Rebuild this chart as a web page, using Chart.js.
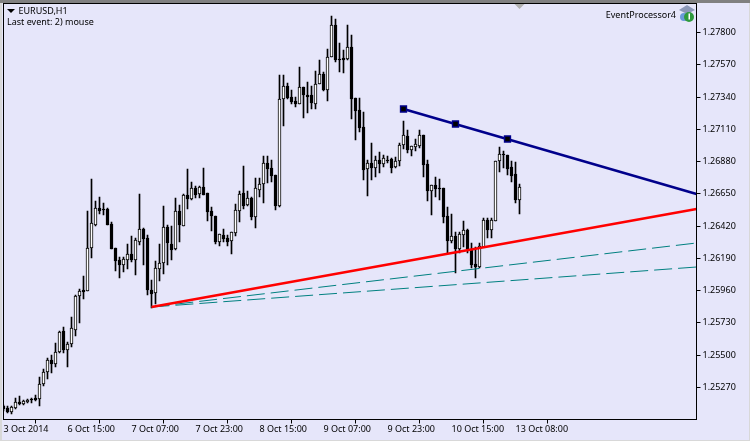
<!DOCTYPE html>
<html>
<head>
<meta charset="utf-8">
<title>EURUSD,H1</title>
<style>
  html, body { margin: 0; padding: 0; background: #e6e6fa; }
  canvas { display: block; }
</style>
<script src="https://cdn.jsdelivr.net/npm/chart.js@4/dist/chart.umd.js"></script>
</head>
<body>
<canvas id="grafico" width="750" height="441"></canvas>
<script>
// Candles, oldest first
const opens = [
  1.25134, 1.25120, 1.25092, 1.25120, 1.25163, 1.25148, 1.25163, 1.25184, 1.25191, 1.25184,
  1.25291, 1.25377, 1.25462, 1.25433, 1.25520, 1.25669, 1.25534, 1.25576, 1.25676, 1.25918,
  1.25961, 1.25954, 1.26261, 1.26424, 1.26546, 1.26539, 1.26539, 1.26431, 1.26261, 1.26175,
  1.26139, 1.26175, 1.26217, 1.26175, 1.26304, 1.26396, 1.26332, 1.25961, 1.25940, 1.26111,
  1.26154, 1.26410, 1.26289, 1.26254, 1.26524, 1.26417, 1.26638, 1.26610, 1.26688, 1.26645,
  1.26695, 1.26653, 1.26524, 1.26488, 1.26304, 1.26353, 1.26332, 1.26311, 1.26368, 1.26524,
  1.26653, 1.26567, 1.26617, 1.26481, 1.26674, 1.26716, 1.26867, 1.26831, 1.26780, 1.26560,
  1.27322, 1.27415, 1.27336, 1.27308, 1.27286, 1.27408, 1.27351, 1.27351, 1.27286, 1.27429,
  1.27500, 1.27387, 1.27622, 1.27849, 1.27607, 1.27615, 1.27607, 1.27693, 1.27329, 1.27244,
  1.27123, 1.26824, 1.26867, 1.26831, 1.26888, 1.26859, 1.26888, 1.26895, 1.26838, 1.26881,
  1.26995, 1.27059, 1.26959, 1.26980, 1.26987, 1.27066, 1.26859, 1.26667, 1.26709, 1.26688,
  1.26688, 1.26488, 1.26311, 1.26346, 1.26254, 1.26353, 1.26389, 1.26254, 1.26146, 1.26125,
  1.26268, 1.26460, 1.26389, 1.26453, 1.26881, 1.26931, 1.26923, 1.26838, 1.26788, 1.26603
];
const closes = [
  1.25113, 1.25092, 1.25127, 1.25163, 1.25148, 1.25170, 1.25177, 1.25177, 1.25177, 1.25291,
  1.25377, 1.25462, 1.25433, 1.25520, 1.25662, 1.25534, 1.25576, 1.25690, 1.25918, 1.25954,
  1.25947, 1.26261, 1.26439, 1.26546, 1.26524, 1.26531, 1.26424, 1.26254, 1.26168, 1.26139,
  1.26182, 1.26217, 1.26175, 1.26318, 1.26396, 1.26325, 1.25961, 1.25932, 1.26118, 1.26154,
  1.26410, 1.26297, 1.26246, 1.26524, 1.26424, 1.26638, 1.26610, 1.26688, 1.26638, 1.26695,
  1.26638, 1.26517, 1.26488, 1.26304, 1.26360, 1.26325, 1.26304, 1.26375, 1.26531, 1.26645,
  1.26560, 1.26617, 1.26481, 1.26688, 1.26716, 1.26867, 1.26824, 1.26773, 1.26560, 1.27322,
  1.27415, 1.27329, 1.27301, 1.27286, 1.27408, 1.27351, 1.27336, 1.27294, 1.27429, 1.27500,
  1.27387, 1.27622, 1.27849, 1.27600, 1.27600, 1.27600, 1.27693, 1.27322, 1.27237, 1.27116,
  1.26816, 1.26867, 1.26831, 1.26888, 1.26859, 1.26902, 1.26881, 1.26831, 1.26881, 1.26995,
  1.27066, 1.26959, 1.26987, 1.27001, 1.27066, 1.26852, 1.26667, 1.26709, 1.26681, 1.26681,
  1.26481, 1.26311, 1.26346, 1.26254, 1.26360, 1.26389, 1.26254, 1.26139, 1.26125, 1.26275,
  1.26460, 1.26389, 1.26460, 1.26881, 1.26931, 1.26923, 1.26824, 1.26773, 1.26603, 1.26695
];
const highs = [
  1.25141, 1.25134, 1.25134, 1.25191, 1.25205, 1.25177, 1.25184, 1.25191, 1.25212, 1.25341,
  1.25398, 1.25477, 1.25498, 1.25584, 1.25669, 1.25697, 1.25591, 1.25769, 1.25925, 1.25968,
  1.26061, 1.26524, 1.26752, 1.26596, 1.26624, 1.26582, 1.26546, 1.26446, 1.26261, 1.26196,
  1.26196, 1.26289, 1.26346, 1.26332, 1.26645, 1.26403, 1.26353, 1.26032, 1.26168, 1.26289,
  1.26560, 1.26424, 1.26417, 1.26617, 1.26567, 1.26645, 1.26824, 1.26731, 1.26702, 1.26702,
  1.26831, 1.26653, 1.26553, 1.26488, 1.26360, 1.26396, 1.26353, 1.26375, 1.26574, 1.26667,
  1.26845, 1.26667, 1.26624, 1.26759, 1.26759, 1.26916, 1.26916, 1.26888, 1.26780, 1.27493,
  1.27493, 1.27437, 1.27387, 1.27336, 1.27550, 1.27408, 1.27444, 1.27415, 1.27522, 1.27600,
  1.27515, 1.27679, 1.27914, 1.27892, 1.27722, 1.27672, 1.27849, 1.27778, 1.27329, 1.27329,
  1.27230, 1.26888, 1.27009, 1.26916, 1.26945, 1.26923, 1.26916, 1.26902, 1.26909, 1.27009,
  1.27166, 1.27101, 1.26987, 1.27037, 1.27101, 1.27066, 1.26888, 1.26709, 1.26766, 1.26752,
  1.26688, 1.26553, 1.26502, 1.26375, 1.26375, 1.26453, 1.26396, 1.26297, 1.26268, 1.26297,
  1.26474, 1.26474, 1.26474, 1.26881, 1.26980, 1.26952, 1.26923, 1.26881, 1.26874, 1.26716
];
const lows = [
  1.25099, 1.25085, 1.25077, 1.25113, 1.25141, 1.25141, 1.25156, 1.25156, 1.25170, 1.25134,
  1.25277, 1.25327, 1.25370, 1.25412, 1.25513, 1.25513, 1.25412, 1.25555, 1.25633, 1.25726,
  1.25897, 1.25954, 1.26189, 1.26417, 1.26502, 1.26495, 1.26424, 1.26254, 1.26097, 1.26047,
  1.26090, 1.26111, 1.26161, 1.26068, 1.26282, 1.26139, 1.25925, 1.25833, 1.25861, 1.26025,
  1.26075, 1.26139, 1.26175, 1.26246, 1.26304, 1.26417, 1.26539, 1.26603, 1.26617, 1.26617,
  1.26638, 1.26453, 1.26382, 1.26289, 1.26275, 1.26304, 1.26275, 1.26217, 1.26346, 1.26446,
  1.26539, 1.26560, 1.26460, 1.26403, 1.26624, 1.26582, 1.26724, 1.26731, 1.26531, 1.26553,
  1.27130, 1.27322, 1.27286, 1.27265, 1.27286, 1.27187, 1.27223, 1.27251, 1.27251, 1.27429,
  1.27380, 1.27308, 1.27622, 1.27586, 1.27515, 1.27508, 1.27600, 1.27180, 1.27030, 1.27087,
  1.26745, 1.26631, 1.26745, 1.26766, 1.26795, 1.26838, 1.26867, 1.26795, 1.26831, 1.26845,
  1.26966, 1.26938, 1.26916, 1.26952, 1.26973, 1.26766, 1.26596, 1.26495, 1.26624, 1.26603,
  1.26439, 1.26225, 1.26297, 1.26083, 1.26225, 1.26268, 1.26225, 1.26118, 1.26047, 1.26118,
  1.26268, 1.26332, 1.26332, 1.26453, 1.26802, 1.26831, 1.26780, 1.26731, 1.26582, 1.26502
];

// Axes
const xTickBars = [0, 16, 32, 48, 64, 80, 96, 112, 128];
const xTickLabels = ['3 Oct 2014', '6 Oct 15:00', '7 Oct 07:00', '7 Oct 23:00', '8 Oct 15:00',
  '9 Oct 07:00', '9 Oct 23:00', '10 Oct 15:00', '13 Oct 08:00'];
const yTicks = [1.278, 1.2757, 1.2734, 1.2711, 1.2688, 1.2665, 1.2642, 1.2619, 1.2596, 1.2573, 1.255, 1.2527];

// Trend lines: [bar, price]
const redLine = [[37, 1.25840], [173.25, 1.26539]];
const blueLine = [[100, 1.27251], [173.25, 1.26645]];
const blueAnchors = [[100, 1.27251], [113, 1.27144], [126, 1.27037]];
const tealUpper = [[37, 1.25840], [173.25, 1.26297]];
const tealLower = [[37, 1.25840], [173.25, 1.26125]];

const BG = '#e6e6fa';
const pontos = arr => arr.map(p => ({ x: p[0], y: p[1] }));

// MT4 draws on whole pixels, so snap the price scale too
class RoundLinear extends Chart.LinearScale {
  getPixelForValue(v) { return Math.round(super.getPixelForValue(v)); }
}
RoundLinear.id = 'roundLinear';
RoundLinear.defaults = Chart.LinearScale.defaults;
Chart.register(RoundLinear);

const semPadding = scale => {
  scale.paddingTop = scale.paddingBottom = scale.paddingLeft = scale.paddingRight = 0;
};

// Window frame, caption texts and the expert icon
const moldura = {
  id: 'moldura',
  beforeDraw(chart) {
    const c = chart.ctx;
    c.save();
    c.fillStyle = BG;
    c.fillRect(0, 0, 750, 441);
    c.fillStyle = '#808080';
    c.fillRect(0, 0, 750, 3);
    c.fillStyle = '#d8d8d8';
    c.fillRect(0, 3, 2, 438);
    c.fillRect(0, 440, 750, 1);
    c.fillRect(749, 3, 1, 438);
    c.restore();
  },
  afterDraw(chart) {
    const c = chart.ctx;
    const a = chart.chartArea;
    c.save();
    c.strokeStyle = '#000';
    c.lineWidth = 1;
    c.strokeRect(a.left, a.top, a.right - a.left, a.bottom - a.top);

    // shift marker above the last bar
    const sx = chart.scales.x.getPixelForValue(129);
    c.fillStyle = '#b0b0b0';
    c.beginPath();
    c.moveTo(sx - 5, 4); c.lineTo(sx + 5, 4); c.lineTo(sx, 9);
    c.fill();

    // symbol menu arrow
    c.fillStyle = '#000';
    c.beginPath();
    c.moveTo(7, 9); c.lineTo(15, 9); c.lineTo(11, 13);
    c.fill();

    c.font = '9px "Noto Sans"';
    c.textBaseline = 'alphabetic';
    c.textAlign = 'left';
    c.fillText('EURUSD,H1', 18.5, 14);
    c.fillText('Last event: 2) mouse', 7, 25);
    c.textAlign = 'right';
    c.fillText('EventProcessor4', 676, 18);

    // icon
    c.fillStyle = '#8c98b8';
    c.beginPath();
    c.moveTo(679, 10); c.lineTo(687, 5); c.lineTo(695, 10); c.lineTo(687, 14);
    c.fill();
    c.fillStyle = '#6a9ad8';
    c.beginPath();
    c.arc(684, 17, 4, 0, Math.PI * 2);
    c.fill();
    c.fillStyle = '#2e9a3c';
    c.beginPath();
    c.arc(689, 17, 5, 0, Math.PI * 2);
    c.fill();
    c.fillStyle = '#fff';
    c.fillRect(688.5, 13.5, 1.5, 6);
    c.restore();
  }
};

new Chart(document.getElementById('grafico'), {
  type: 'bar',
  data: {
    datasets: [
      {
        label: 'wicks',
        order: 5,
        grouped: false,
        barThickness: 1,
        backgroundColor: '#000',
        data: highs.map((h, i) => ({ x: i, y: [lows[i], h] }))
      },
      {
        label: 'bodies',
        order: 4,
        grouped: false,
        barThickness: 3,
        borderWidth: 1,
        borderSkipped: false,
        borderColor: '#000',
        backgroundColor: ctx => (closes[ctx.dataIndex] > opens[ctx.dataIndex] ? '#fff' : '#000'),
        data: opens.map((o, i) => ({ x: i, y: [o, closes[i]] }))
      },
      { type: 'line', label: 'teal1', order: 3, data: pontos(tealUpper), borderColor: '#008080', borderWidth: 1, borderDash: [18, 6], pointRadius: 0 },
      { type: 'line', label: 'teal2', order: 3, data: pontos(tealLower), borderColor: '#008080', borderWidth: 1, borderDash: [18, 6], pointRadius: 0 },
      { type: 'line', label: 'red', order: 2, data: pontos(redLine), borderColor: '#ff0000', borderWidth: 2.5, pointRadius: 0 },
      { type: 'line', label: 'blue', order: 2, data: pontos(blueLine), borderColor: '#00008b', borderWidth: 2.5, pointRadius: 0 },
      {
        type: 'line', label: 'anchors', order: 1, data: pontos(blueAnchors), showLine: false,
        pointStyle: 'rect', pointRadius: 4.2, borderWidth: 1.4,
        pointBackgroundColor: '#000', pointBorderColor: '#00008b'
      }
    ]
  },
  options: {
    responsive: false,
    animation: false,
    events: [],
    layout: { autoPadding: false, padding: { left: 3.5, top: 3.5, right: 0, bottom: 0 } },
    plugins: { legend: { display: false }, tooltip: { enabled: false } },
    scales: {
      x: {
        type: 'linear',
        offset: false,
        min: 0,
        max: 173.25,
        afterBuildTicks: s => { s.ticks = xTickBars.map(v => ({ value: v })); },
        afterFit: s => { s.height = 21.5; semPadding(s); },
        grid: { drawOnChartArea: false, tickLength: 4, tickColor: '#000' },
        border: { color: '#000' },
        ticks: {
          autoSkip: false,
          maxRotation: 0,
          align: 'start',
          padding: 1,
          color: '#000',
          font: { family: '"Noto Sans"', size: 9 },
          callback: (v, i) => xTickLabels[i]
        }
      },
      y: {
        type: 'roundLinear',
        position: 'right',
        min: 1.25038287,
        max: 1.28003119,
        afterBuildTicks: s => { s.ticks = yTicks.map(v => ({ value: v })); },
        afterFit: s => { s.width = 53.5; semPadding(s); },
        grid: { drawOnChartArea: false, tickLength: 4, tickColor: '#000' },
        border: { color: '#000' },
        ticks: {
          autoSkip: false,
          padding: 2,
          color: '#000',
          font: { family: '"Noto Sans"', size: 9 },
          callback: v => v.toFixed(5)
        }
      }
    }
  },
  plugins: [moldura]
});
</script>
</body>
</html>
